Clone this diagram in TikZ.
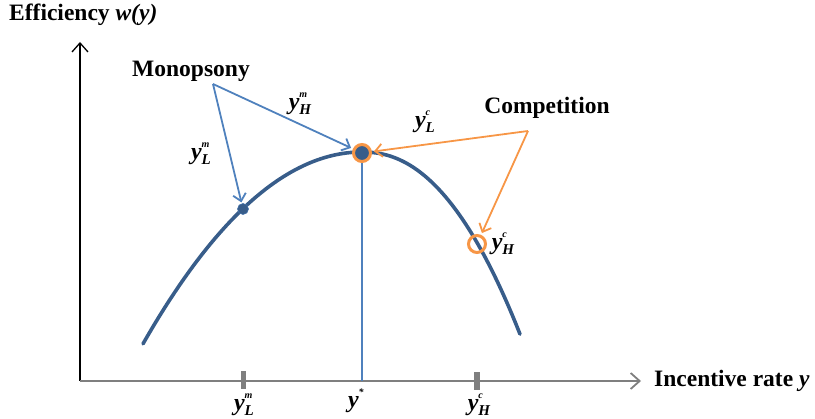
\documentclass[tikz,border=0pt]{standalone}
\usepackage{fontspec}
\setmainfont{Liberation Serif}
\usetikzlibrary{arrows.meta}
\definecolor{cblue}{HTML}{4F81BD}
\definecolor{corange}{HTML}{F79646}
\definecolor{cdark}{HTML}{385D8A}
\definecolor{cgray}{HTML}{7F7F7F}
\newcommand\yv[2]{{\fontsize{24}{24}\selectfont\bfseries\itshape y}\makebox[0pt][l]{\raisebox{12pt}{\fontsize{10}{10}\selectfont\bfseries\itshape #1}}\raisebox{-5pt}{\fontsize{15}{15}\selectfont\bfseries\itshape #2}}
\tikzset{
  lbl/.style={font=\fontsize{23.5}{25}\selectfont\bfseries, inner sep=0pt},
  sym/.style={inner sep=0pt},
  barrow/.style={draw=cblue, line width=1.8pt, -{Straight Barb[length=7pt,width=13pt]}},
  oarrow/.style={draw=corange, line width=1.8pt, -{Straight Barb[length=7pt,width=13pt]}},
  tickbar/.style={fill=cgray, draw=none},
}
\begin{document}
\begin{tikzpicture}[x=1pt,y=-1pt]
\useasboundingbox (0,0) rectangle (815,419);
% axes
\coordinate (o) at (80,381);
\coordinate (ytop) at (80,42);
\coordinate (xend) at (641,381);
\draw[line width=1.3pt, black, -{Straight Barb[length=9pt,width=16pt]}] (o) -- (ytop);
\draw[line width=1.8pt, cgray, -{Straight Barb[length=9pt,width=16pt]}] (o) -- (xend);
\node[lbl, anchor=west] (ylab) at (9,15) {Efficiency \textit{w(y)}};
\node[lbl, anchor=west] (xlab) at (654,381) {Incentive rate \textit{y}};
% ticks
\fill[tickbar] (240.5,371) rectangle (246,389);
\fill[tickbar] (474,372) rectangle (479.5,390);
% curve
\draw[cdark, line width=3.6pt, line cap=round] plot[domain=143:362, samples=60, smooth] (\x, {152 + 40*((362-\x)/100)^2})
  -- plot[domain=362:520, samples=50, smooth] (\x, {152 + 66.6*((\x-362)/100)^2.2});
% vertical line
\coordinate (ybase) at (362,381);
\node[circle, minimum size=17pt, inner sep=0pt] (pk) at (362,153) {};
\draw[cblue, line width=1.4pt] (pk.south) -- (ybase);
% points
\node[circle, fill=cdark, draw=cblue!60!cdark, line width=0.6pt, minimum size=11pt, inner sep=0pt] (pL) at (243,209) {};
\node[circle, fill=cdark, draw=corange, line width=3pt, minimum size=17pt, inner sep=0pt] (pk2) at (362,153) {};
\node[circle, draw=corange, line width=3pt, minimum size=17pt, inner sep=0pt] (pH) at (477,244) {};
% labels
\node[lbl] (mono) at (191,71) {Monopsony};
\node[lbl] (comp) at (547,108) {Competition};
\coordinate (mo) at (213,84);
\coordinate (co) at (528,131);
\draw[barrow, shorten >=1pt] (mo) -- (pL);
\draw[barrow, shorten >=2pt] (mo) -- (pk2);
\draw[oarrow, shorten >=2pt] (co) -- (pk2);
\draw[oarrow, shorten >=2pt] (co) -- (pH);
% symbol labels
\node[sym] (lHm) at (300,104) {\yv{m}{H}};
\node[sym] (lLm) at (201,154) {\yv{m}{L}};
\node[sym] (lLc) at (425,122) {\yv{c}{L}};
\node[sym] (lHc) at (503,244) {\yv{c}{H}};
\node[sym] (bLm) at (244,405) {\yv{m}{L}};
\node[sym] (bst) at (358,401) {\yv{*}{\phantom{L}}};
\node[sym] (bHc) at (479,405) {\yv{c}{H}};
\end{tikzpicture}
\end{document}
